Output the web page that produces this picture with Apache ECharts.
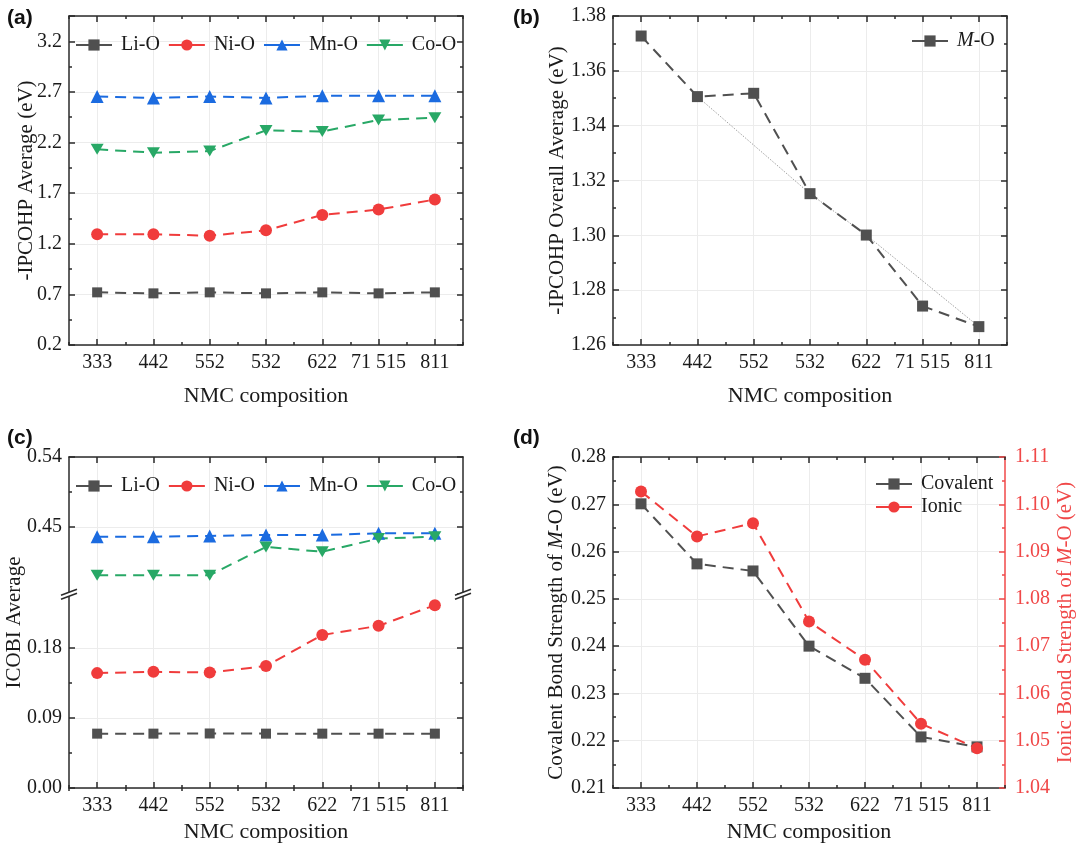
<!DOCTYPE html>
<html><head><meta charset="utf-8">
<script src="https://cdn.jsdelivr.net/npm/echarts@6.0.0/dist/echarts.min.js"></script>
<style>html,body{margin:0;padding:0;background:#fff}#c{width:1080px;height:848px}</style>
</head><body><div id="c"></div>
<script>
// ---------- data ----------
const categories = ['333', '442', '552', '532', '622', '71 515', '811'];

// (a) -IPCOHP average (eV)
const ipcohpLiO = [0.72, 0.71, 0.72, 0.71, 0.72, 0.71, 0.72];
const ipcohpNiO = [1.294, 1.294, 1.28, 1.333, 1.485, 1.538, 1.637];
const ipcohpMnO = [2.655, 2.641, 2.655, 2.641, 2.661, 2.661, 2.661];
const ipcohpCoO = [2.133, 2.10, 2.116, 2.32, 2.308, 2.423, 2.446];

// (b) -IPCOHP overall average (eV)
const overallMO = [1.3727, 1.3506, 1.3518, 1.3152, 1.3001, 1.2742, 1.2667];
const trendCategories = ['442', '532', '622', '811'];

// (c) ICOBI average
const icobiLiO = [0.0698, 0.0698, 0.070, 0.0698, 0.0698, 0.0698, 0.0698];
const icobiNiO = [0.1475, 0.1492, 0.1483, 0.1566, 0.1965, 0.2082, 0.2347];
const icobiMnO = [0.4377, 0.4377, 0.4386, 0.4399, 0.4399, 0.442, 0.442];
const icobiCoO = [0.3883, 0.3883, 0.3883, 0.4246, 0.4183, 0.4352, 0.4377];
const icobiBreak = [0.25, 0.365];

// (d) bond strengths (eV)
const covalent = [0.2701, 0.2574, 0.2559, 0.2400, 0.2332, 0.2208, 0.2187];
const ionic = [1.1027, 1.0932, 1.0960, 1.0752, 1.0671, 1.0536, 1.0484];

// ---------- styles ----------
const FONT = '"Liberation Serif", "Times New Roman", serif';
const AX = '#2a2a2a';
const TXT = '#1a1a1a';
const GRIDC = '#ececec';
const cLi = '#505050', cNi = '#f03c3c', cMn = '#1b6be0', cCo = '#28a866';
const cRedAxis = '#f04848';
const DOWN_TRI = 'path://M0,0L10,0L5,8.66Z';
const DASH = [11, 7];

const grids = [
  {left: 69, top: 16, width: 394, height: 329},
  {left: 613, top: 16, width: 394, height: 329},
  {left: 69, top: 457, width: 394, height: 331},
  {left: 613, top: 457, width: 392, height: 331}
];

function ts(c) { return {color: c || AX, width: 1.5}; }

function xSet(g, nameGap) {
  const base = {type: 'category', gridIndex: g, data: categories, boundaryGap: true,
    axisLabel: {show: false}, splitLine: {show: false}};
  return [
    Object.assign({}, base, {position: 'bottom',
      axisLine: {show: true, onZero: false, lineStyle: ts()},
      axisTick: {show: true, inside: true, alignWithLabel: true, interval: 0, length: 6, lineStyle: ts()},
      axisLabel: {show: true, interval: 0, margin: 8, fontFamily: FONT, fontSize: 20, color: TXT},
      splitLine: {show: true, alignWithLabel: true, interval: 0, lineStyle: {color: GRIDC, width: 1}},
      name: 'NMC composition', nameLocation: 'middle', nameGap: nameGap,
      nameTextStyle: {fontFamily: FONT, fontSize: 22, color: TXT}}),
    Object.assign({}, base, {position: 'bottom', axisLine: {show: false},
      axisTick: {show: true, inside: true, interval: 0, length: 3, lineStyle: ts()}}),
    Object.assign({}, base, {position: 'top',
      axisLine: {show: true, onZero: false, lineStyle: ts()},
      axisTick: {show: true, inside: true, alignWithLabel: true, interval: 0, length: 6, lineStyle: ts()}}),
    Object.assign({}, base, {position: 'top', axisLine: {show: false},
      axisTick: {show: true, inside: true, interval: 0, length: 3, lineStyle: ts()}})
  ];
}

function nameStyle(tcol) {
  return {fontFamily: FONT, fontSize: 21, color: tcol,
    rich: {i: {fontFamily: FONT, fontSize: 21, fontStyle: 'italic', color: tcol}}};
}

function ySet(g, position, o) {
  const col = o.color || AX;
  const tcol = o.color || TXT;
  const ax = {type: 'value', gridIndex: g, position: position, min: o.min, max: o.max, interval: o.interval,
    axisLine: {show: true, onZero: false, lineStyle: ts(col)},
    axisTick: {show: true, inside: true, length: 6, lineStyle: ts(col)},
    minorTick: {show: true, splitNumber: 2, length: 3, lineStyle: ts(col)},
    axisLabel: {show: !!o.labels, margin: o.margin || 7, fontFamily: FONT, fontSize: 20, color: tcol,
      formatter: o.fmt},
    splitLine: {show: !!o.split, lineStyle: {color: GRIDC, width: 1}},
    minorSplitLine: {show: false},
    name: o.name || '', nameLocation: 'middle', nameGap: o.nameGap || 0, nameRotate: 90,
    nameMoveOverlap: false,
    nameTextStyle: nameStyle(tcol)
  };
  if (o.breaks) {
    ax.breaks = o.breaks;
    ax.breakArea = {show: false};
  }
  return ax;
}

// an axis that carries only a name (used where the visible axis has a break)
function nameOnlyAxis(g, name, nameGap) {
  return {type: 'value', gridIndex: g, position: 'left', min: 0, max: 1,
    axisLine: {show: false}, axisTick: {show: false}, axisLabel: {show: false},
    splitLine: {show: false}, minorTick: {show: false},
    name: name, nameLocation: 'middle', nameGap: nameGap, nameRotate: 90,
    nameTextStyle: nameStyle(TXT)};
}

function onStep(v, base, step) {
  const k = (v - base) / step;
  return Math.abs(k - Math.round(k)) < 1e-6;
}

const xAxes = [].concat(xSet(0, 40), xSet(1, 40), xSet(2, 33), xSet(3, 33));

const yAxes = [
  ySet(0, 'left', {min: 0.2, max: 3.45, interval: 0.5, labels: true, split: true,
    fmt: v => onStep(v, 0.2, 0.5) ? v.toFixed(1) : '',
    name: '-IPCOHP Average (eV)', nameGap: 32}),
  ySet(0, 'right', {min: 0.2, max: 3.45, interval: 0.5}),
  ySet(1, 'left', {min: 1.26, max: 1.38, interval: 0.02, labels: true, split: true,
    fmt: v => v.toFixed(2), name: '-IPCOHP Overall Average (eV)', nameGap: 45}),
  ySet(1, 'right', {min: 1.26, max: 1.38, interval: 0.02}),
  ySet(2, 'left', {min: 0, max: 0.54, interval: 0.09, labels: true, split: true,
    fmt: v => onStep(v, 0, 0.09) ? v.toFixed(2) : '',
    breaks: [{start: icobiBreak[0], end: icobiBreak[1], gap: 0}]}),
  ySet(2, 'right', {min: 0, max: 0.54, interval: 0.09,
    breaks: [{start: icobiBreak[0], end: icobiBreak[1], gap: 0}]}),
  ySet(3, 'left', {min: 0.21, max: 0.28, interval: 0.01, labels: true, split: true,
    fmt: v => v.toFixed(2), name: 'Covalent Bond Strength of {i|M}-O (eV)', nameGap: 46}),
  ySet(3, 'right', {min: 1.04, max: 1.11, interval: 0.01, labels: true, color: cRedAxis, margin: 10,
    fmt: v => v.toFixed(2), name: 'Ionic Bond Strength of {i|M}-O (eV)', nameGap: 50}),
  nameOnlyAxis(2, 'ICOBI Average', 44)
];

function line(name, data, color, symbol, symbolSize, xi, yi) {
  return {type: 'line', name: name, data: data, xAxisIndex: xi, yAxisIndex: yi,
    symbol: symbol, symbolSize: symbolSize, color: color,
    lineStyle: {color: color, width: 2, type: DASH},
    itemStyle: {color: color}, z: 3, animation: false};
}

const trendData = categories.map((c, i) => trendCategories.indexOf(c) >= 0 ? overallMO[i] : null);

const series = [
  line('Li-O', ipcohpLiO, cLi, 'rect', 10, 0, 0),
  line('Ni-O', ipcohpNiO, cNi, 'circle', 12, 0, 0),
  line('Mn-O', ipcohpMnO, cMn, 'triangle', 13, 0, 0),
  line('Co-O', ipcohpCoO, cCo, DOWN_TRI, [13, 11], 0, 0),
  {type: 'line', name: 'trend', data: trendData, connectNulls: true, xAxisIndex: 4, yAxisIndex: 2,
    symbol: 'none', lineStyle: {color: '#8a8a8a', width: 0.8, type: [1.5, 1.5]}, z: 2, animation: false},
  line('M-O', overallMO, cLi, 'rect', 11, 4, 2),
  line('Li-O', icobiLiO, cLi, 'rect', 10, 8, 4),
  line('Ni-O', icobiNiO, cNi, 'circle', 12, 8, 4),
  line('Mn-O', icobiMnO, cMn, 'triangle', 13, 8, 4),
  line('Co-O', icobiCoO, cCo, DOWN_TRI, [13, 11], 8, 4),
  line('Covalent', covalent, cLi, 'rect', 11, 12, 6),
  line('Ionic', ionic, cNi, 'circle', 12, 12, 7)
];

const legendText = {fontFamily: FONT, fontSize: 20, color: TXT, padding: [0, 0, 0, 4]};
const legendLine = {type: 'solid', width: 2};

const option = {
  animation: false,
  backgroundColor: '#fff',
  title: [
    {text: '(a)', left: 2, top: 3},
    {text: '(b)', left: 508, top: 3},
    {text: '(c)', left: 2, top: 423},
    {text: '(d)', left: 508, top: 423}
  ].map(t => Object.assign(t, {textStyle: {fontFamily: '"Liberation Sans", Arial, sans-serif',
    fontWeight: 'bold', fontSize: 21, color: '#111'}})),
  grid: grids.map(g => Object.assign({containLabel: false, outerBoundsMode: 'none'}, g)),
  xAxis: xAxes,
  yAxis: yAxes,
  legend: [
    {data: ['Li-O', 'Ni-O', 'Mn-O', 'Co-O'], left: 70, top: 30, itemWidth: 36, itemHeight: 14,
      itemGap: 8, textStyle: legendText, lineStyle: legendLine, selectedMode: false},
    {data: ['M-O'], left: 906, top: 26, itemWidth: 36, itemHeight: 14, selectedMode: false,
      lineStyle: legendLine, formatter: '{i|M}-O',
      textStyle: Object.assign({}, legendText, {rich: {i: {fontFamily: FONT, fontSize: 20, fontStyle: 'italic', color: TXT}}})},
    {data: ['Li-O', 'Ni-O', 'Mn-O', 'Co-O'], left: 70, top: 471, itemWidth: 36, itemHeight: 14,
      itemGap: 8, textStyle: legendText, lineStyle: legendLine, selectedMode: false},
    {data: ['Covalent', 'Ionic'], orient: 'vertical', left: 870, top: 469, itemWidth: 36, itemHeight: 14,
      itemGap: 3, textStyle: legendText, lineStyle: legendLine, selectedMode: false}
  ],
  series: series
};

const chart = echarts.init(document.getElementById('c'), null, {renderer: 'canvas'});
chart.setOption(option);

// break marks on the ICOBI axis
const yA = chart.convertToPixel({yAxisIndex: 4}, icobiBreak[0]);
const yB = chart.convertToPixel({yAxisIndex: 4}, icobiBreak[1]);
const ym = (yA + yB) / 2;
const gc = grids[2];
const marks = [];
[gc.left, gc.left + gc.width].forEach(x => {
  marks.push({type: 'polygon', z: 100, shape: {points: [[x - 8, ym + 6], [x + 8, ym], [x + 8, ym - 4], [x - 8, ym + 2]]},
    style: {fill: '#fff', stroke: null}});
  marks.push({type: 'line', z: 101, shape: {x1: x - 8, y1: ym + 6, x2: x + 8, y2: ym}, style: {stroke: AX, lineWidth: 1.5}});
  marks.push({type: 'line', z: 101, shape: {x1: x - 8, y1: ym + 2, x2: x + 8, y2: ym - 4}, style: {stroke: AX, lineWidth: 1.5}});
});
chart.setOption({graphic: marks});
</script>
</body></html>
